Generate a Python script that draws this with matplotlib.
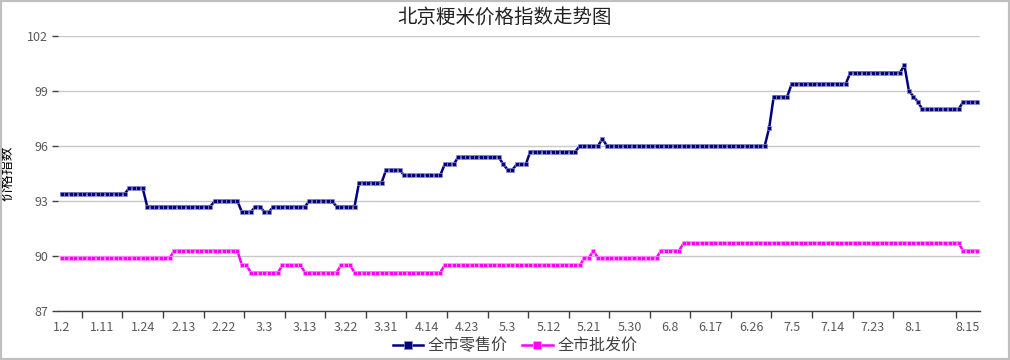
import matplotlib
matplotlib.use("Agg")
import matplotlib.pyplot as plt
from matplotlib.patches import Rectangle

plt.rcParams['font.family'] = ['Noto Sans CJK SC', 'DejaVu Sans']

# tick labels on the category axis (every 9th point, plus the last one)
tick_labels = ['1.2', '1.11', '1.24', '2.13', '2.22', '3.3', '3.13', '3.22', '3.31',
               '4.14', '4.23', '5.3', '5.12', '5.21', '5.30', '6.8', '6.17', '6.26',
               '7.5', '7.14', '7.23', '8.1', '8.15']
label_pos = list(range(0, 190, 9)) + [201]

# 全市零售价 (one value per point, one run per line)
retail = [
    93.4, 93.4, 93.4, 93.4, 93.4, 93.4, 93.4, 93.4, 93.4, 93.4, 93.4, 93.4, 93.4, 93.4, 93.4,
    93.7, 93.7, 93.7, 93.7,
    92.7, 92.7, 92.7, 92.7, 92.7, 92.7, 92.7, 92.7, 92.7, 92.7, 92.7, 92.7, 92.7, 92.7, 92.7,
    93.0, 93.0, 93.0, 93.0, 93.0, 93.0,
    92.4, 92.4, 92.4,
    92.7, 92.7,
    92.4, 92.4,
    92.7, 92.7, 92.7, 92.7, 92.7, 92.7, 92.7, 92.7,
    93.0, 93.0, 93.0, 93.0, 93.0, 93.0,
    92.7, 92.7, 92.7, 92.7, 92.7,
    94.0, 94.0, 94.0, 94.0, 94.0, 94.0,
    94.7, 94.7, 94.7, 94.7,
    94.4, 94.4, 94.4, 94.4, 94.4, 94.4, 94.4, 94.4, 94.4,
    95.0, 95.0, 95.0,
    95.4, 95.4, 95.4, 95.4, 95.4, 95.4, 95.4, 95.4, 95.4, 95.4,
    95.0,
    94.7, 94.7,
    95.0, 95.0, 95.0,
    95.7, 95.7, 95.7, 95.7, 95.7, 95.7, 95.7, 95.7, 95.7, 95.7, 95.7,
    96.0, 96.0, 96.0, 96.0, 96.0,
    96.4,
    96.0, 96.0, 96.0, 96.0, 96.0, 96.0, 96.0, 96.0, 96.0, 96.0, 96.0, 96.0,
    96.0, 96.0, 96.0, 96.0, 96.0, 96.0, 96.0, 96.0, 96.0, 96.0, 96.0, 96.0,
    96.0, 96.0, 96.0, 96.0, 96.0, 96.0, 96.0, 96.0, 96.0, 96.0, 96.0, 96.0,
    97.0,
    98.7, 98.7, 98.7, 98.7,
    99.4, 99.4, 99.4, 99.4, 99.4, 99.4, 99.4, 99.4, 99.4, 99.4, 99.4, 99.4, 99.4,
    100.0, 100.0, 100.0, 100.0, 100.0, 100.0, 100.0, 100.0, 100.0, 100.0, 100.0, 100.0,
    100.4, 99.0, 98.7, 98.4,
    98.0, 98.0, 98.0, 98.0, 98.0, 98.0, 98.0, 98.0, 98.0,
    98.4, 98.4, 98.4, 98.4,
]

# 全市批发价
wholesale = [
    89.9, 89.9, 89.9, 89.9, 89.9, 89.9, 89.9, 89.9, 89.9, 89.9, 89.9, 89.9, 89.9,
    89.9, 89.9, 89.9, 89.9, 89.9, 89.9, 89.9, 89.9, 89.9, 89.9, 89.9, 89.9,
    90.3, 90.3, 90.3, 90.3, 90.3, 90.3, 90.3, 90.3, 90.3, 90.3, 90.3, 90.3, 90.3, 90.3, 90.3,
    89.5, 89.5,
    89.1, 89.1, 89.1, 89.1, 89.1, 89.1, 89.1,
    89.5, 89.5, 89.5, 89.5, 89.5,
    89.1, 89.1, 89.1, 89.1, 89.1, 89.1, 89.1, 89.1,
    89.5, 89.5, 89.5,
    89.1, 89.1, 89.1, 89.1, 89.1, 89.1, 89.1, 89.1, 89.1, 89.1,
    89.1, 89.1, 89.1, 89.1, 89.1, 89.1, 89.1, 89.1, 89.1, 89.1,
    89.5, 89.5, 89.5, 89.5, 89.5, 89.5, 89.5, 89.5, 89.5, 89.5, 89.5,
    89.5, 89.5, 89.5, 89.5, 89.5, 89.5, 89.5, 89.5, 89.5, 89.5,
    89.5, 89.5, 89.5, 89.5, 89.5, 89.5, 89.5, 89.5, 89.5, 89.5,
    89.9, 89.9,
    90.3,
    89.9, 89.9, 89.9, 89.9, 89.9, 89.9, 89.9, 89.9, 89.9, 89.9, 89.9, 89.9, 89.9, 89.9,
    90.3, 90.3, 90.3, 90.3, 90.3,
    90.7, 90.7, 90.7, 90.7, 90.7, 90.7, 90.7, 90.7, 90.7, 90.7, 90.7, 90.7, 90.7, 90.7, 90.7, 90.7,
    90.7, 90.7, 90.7, 90.7, 90.7, 90.7, 90.7, 90.7, 90.7, 90.7, 90.7, 90.7, 90.7, 90.7, 90.7, 90.7,
    90.7, 90.7, 90.7, 90.7, 90.7, 90.7, 90.7, 90.7, 90.7, 90.7, 90.7, 90.7, 90.7, 90.7, 90.7, 90.7,
    90.7, 90.7, 90.7, 90.7, 90.7, 90.7, 90.7, 90.7, 90.7, 90.7, 90.7, 90.7, 90.7, 90.7,
    90.3, 90.3, 90.3, 90.3,
]

x = list(range(len(retail)))

fig = plt.figure(figsize=(10.1, 3.6), dpi=100)
ax = fig.add_axes([0.0574, 0.136, 0.9126, 0.764])

ax.plot(x, retail, color='#000080', lw=1.8, marker='s', ms=3.2,
        mfc='#000080', mec='#8c8cc8', mew=0.5, label='全市零售价', zorder=3)
ax.plot(x, wholesale, color='#ff00ff', lw=1.8, marker='s', ms=3.2,
        mfc='#ff00ff', mec='#ff9cff', mew=0.5, label='全市批发价', zorder=3)

ax.set_xlim(-0.8, 203.7)
ax.set_ylim(87, 102)
ax.set_yticks([87, 90, 93, 96, 99, 102])
ax.yaxis.grid(True, color='#c8c8c8', lw=1)
ax.set_axisbelow(True)

ax.set_xticks(label_pos)
ax.set_xticklabels(tick_labels)
minor_pos = [4.5 + 9 * k for k in range(21)] + [198.5]
ax.set_xticks(minor_pos, minor=True)
ax.tick_params(axis='x', which='major', length=0, pad=7, labelsize=9, labelcolor='#595959')
ax.tick_params(axis='x', which='minor', length=5, width=1, color='#404040')
ax.tick_params(axis='y', length=4, width=1, color='#404040', labelsize=9, labelcolor='#595959', pad=3)

for s in ['top', 'right', 'left']:
    ax.spines[s].set_visible(False)
ax.spines['bottom'].set_color('#404040')
ax.spines['bottom'].set_linewidth(1)

ax.set_ylabel('价格指数', fontsize=10, color='#000000', labelpad=9)
fig.text(0.5, 0.952, '北京粳米价格指数走势图', ha='center', va='center', fontsize=14, color='#222222')

fig.legend(loc='center', bbox_to_anchor=(0.51, 0.04), ncol=2, frameon=False,
           fontsize=11.5, handlelength=1.9, columnspacing=0.9, handletextpad=0.3,
           markerscale=1.8, labelcolor='#404040')

fig.patches.append(Rectangle((0, 0), 1, 1, transform=fig.transFigure, fill=False,
                             edgecolor='#bfbfbf', lw=3))

fig.savefig('out.png', dpi=100, facecolor='white')
